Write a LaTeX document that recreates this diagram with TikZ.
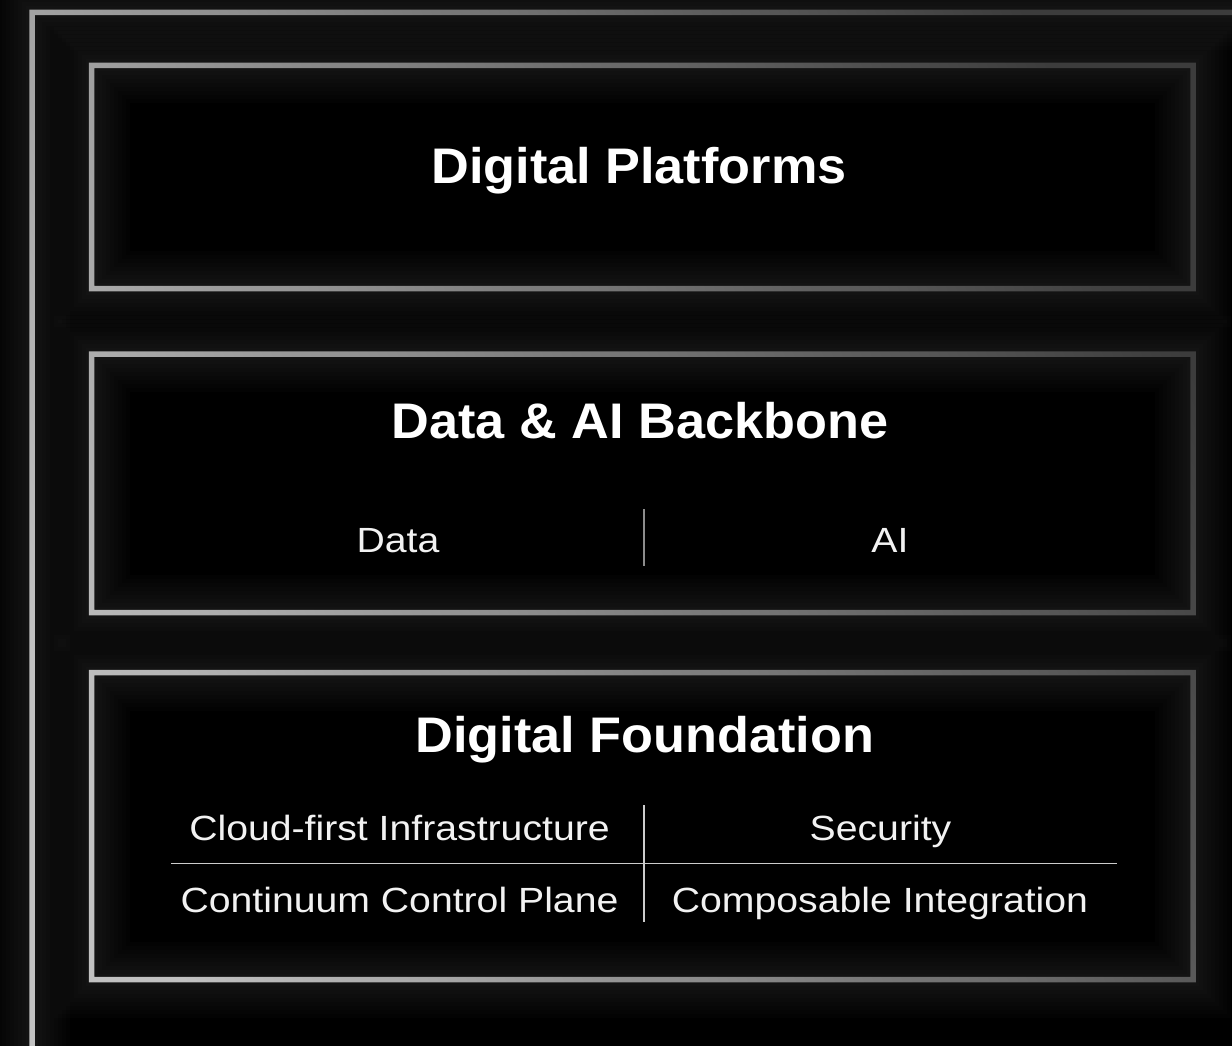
\documentclass[tikz,border=0pt]{standalone}
\usepackage{fontspec}
\setmainfont{Liberation Sans}
\newfontfamily\headfont[FakeStretch=1.045]{Liberation Sans}
\newfontfamily\subfont[FakeStretch=1.12]{Liberation Sans}
\definecolor{edgebright}{HTML}{C2C2C2}
\definecolor{edgedark}{HTML}{3C3C3C}
\definecolor{celltxt}{HTML}{F2F2F2}
\tikzset{
  panel/.style={inner sep=0pt, outer sep=0pt, minimum width=1101.5pt, draw=none},
  title/.style={anchor=base, text=white, inner sep=0pt, font=\headfont\bfseries\fontsize{50}{60}\selectfont},
  celltext/.style={anchor=base, text=celltxt, inner sep=0pt, font=\subfont\fontsize{35}{42}\selectfont},
  glowline/.style={draw=white, opacity=0.011},
  splitrule/.style={draw=white!55!black, line width=2pt},
  gridrule/.style={draw=white!80!black, line width=1.5pt}
}
\begin{document}
\begin{tikzpicture}[x=1pt,y=-1pt]
\fill[black] (0,0) rectangle (1232,1046);
\useasboundingbox (0,0) rectangle (1232,1046);

% panels
\node[panel, minimum height=223pt]   (p1) at (642.25,177) {};
\node[panel, minimum height=258.5pt] (p2) at (642.25,483.25) {};
\node[panel, minimum height=307pt]   (p3) at (642.25,826) {};
\coordinate (frameNW) at (32,12.5);
\coordinate (frameSE) at (1300,1100);

% glow
\foreach \w in {76,68,60,52,44,36,28,20,12}{
  \draw[glowline, line width=\w pt] (frameNW) rectangle (frameSE);
  \draw[glowline, line width=\w pt] (p1.north west) rectangle (p1.south east);
  \draw[glowline, line width=\w pt] (p2.north west) rectangle (p2.south east);
  \draw[glowline, line width=\w pt] (p3.north west) rectangle (p3.south east);
}

% gradient borders
\begin{scope}[even odd rule]
\clip
  ([shift={(-2.75pt,2.75pt)}]frameNW) rectangle ([shift={(2.75pt,-2.75pt)}]frameSE)
  ([shift={(2.75pt,-2.75pt)}]frameNW) rectangle ([shift={(-2.75pt,2.75pt)}]frameSE)
  ([shift={(-2.75pt,2.75pt)}]p1.north west) rectangle ([shift={(2.75pt,-2.75pt)}]p1.south east)
  ([shift={(2.75pt,-2.75pt)}]p1.north west) rectangle ([shift={(-2.75pt,2.75pt)}]p1.south east)
  ([shift={(-2.75pt,2.75pt)}]p2.north west) rectangle ([shift={(2.75pt,-2.75pt)}]p2.south east)
  ([shift={(2.75pt,-2.75pt)}]p2.north west) rectangle ([shift={(-2.75pt,2.75pt)}]p2.south east)
  ([shift={(-2.75pt,2.75pt)}]p3.north west) rectangle ([shift={(2.75pt,-2.75pt)}]p3.south east)
  ([shift={(2.75pt,-2.75pt)}]p3.north west) rectangle ([shift={(-2.75pt,2.75pt)}]p3.south east);
\shade[top color=edgedark, bottom color=edgebright, shading angle=-65] (0,0) rectangle (1232,1046);
\end{scope}

% titles
\node[title] (t1) at (639,183) {Digital Platforms};
\node[title] (t2) at (640,438) {Data \& AI Backbone};
\node[title] (t3) at (645,752) {Digital Foundation};

% cells
\node[celltext] (c1) at (398,552) {Data};
\node[celltext] (c2) at (890,552) {AI};
\node[celltext] (c3) at (399.5,840) {Cloud-first Infrastructure};
\node[celltext] (c4) at (880.5,840) {Security};
\node[celltext] (c5) at (399.5,912) {Continuum Control Plane};
\node[celltext] (c6) at (880,912) {Composable Integration};

% dividers
\coordinate (d1a) at (643.5,509);
\coordinate (d1b) at (643.5,566);
\draw[splitrule] (d1a) -- (d1b);
\coordinate (g1a) at (171,863.5);
\coordinate (g1b) at (1117,863.5);
\coordinate (g2a) at (644,805);
\coordinate (g2b) at (644,922);
\draw[gridrule] (g1a) -- (g1b);
\draw[gridrule] (g2a) -- (g2b);
\end{tikzpicture}
\end{document}
